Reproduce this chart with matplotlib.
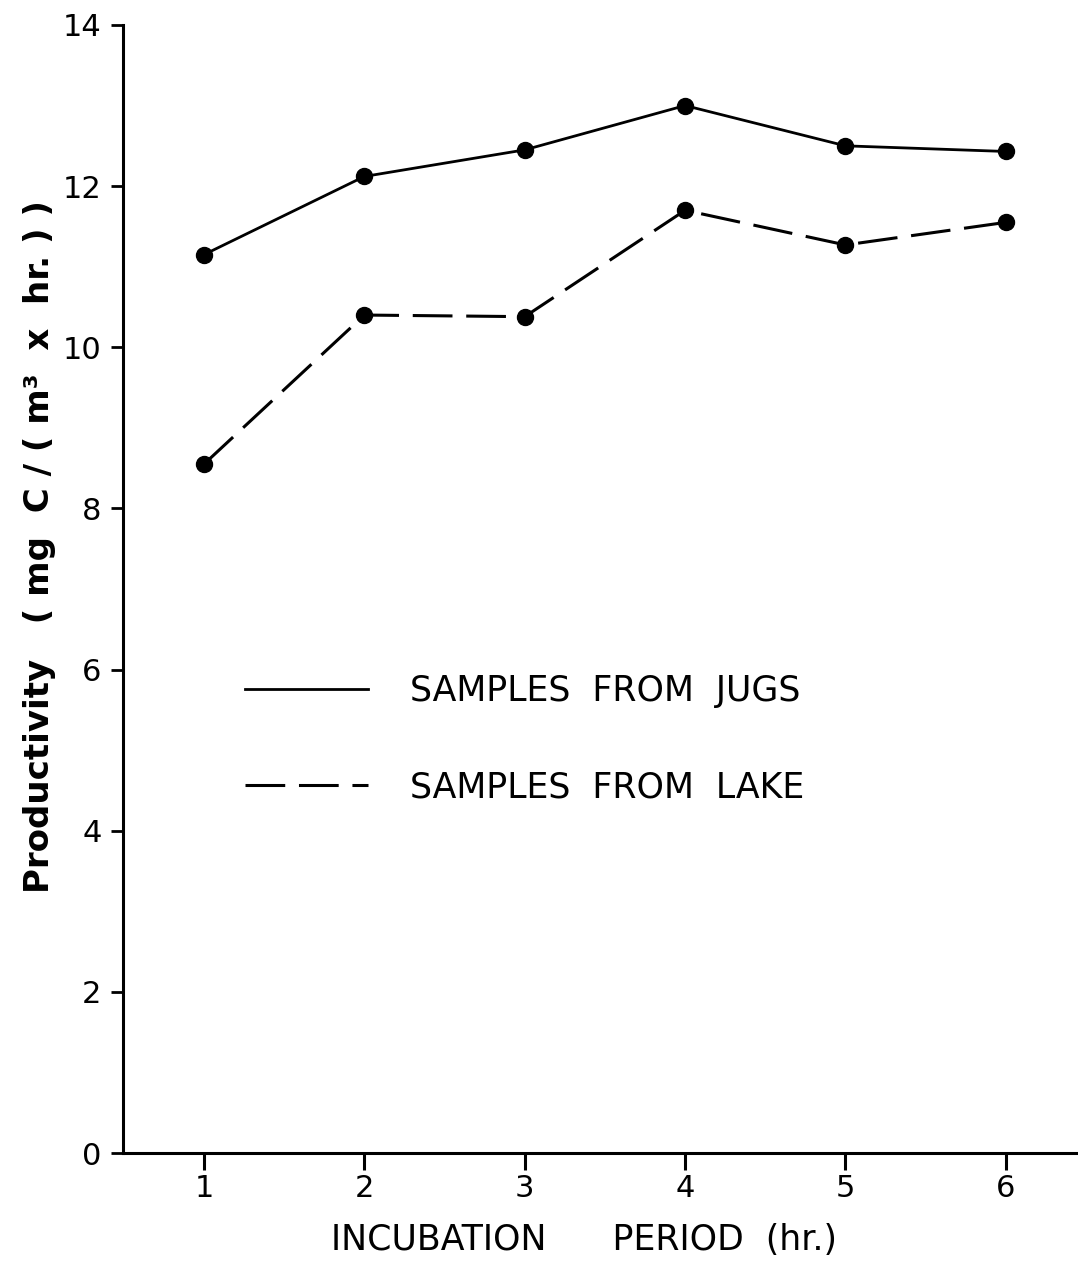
import matplotlib
matplotlib.use("Agg")
import matplotlib.pyplot as plt

# Incubation period (hr.)
hours = [1, 2, 3, 4, 5, 6]
# Productivity, mg C / (m3 x hr.)
jugs = [11.15, 12.12, 12.45, 13.0, 12.5, 12.43]
lake = [8.55, 10.4, 10.38, 11.7, 11.27, 11.55]

y_ticks = [0, 2, 4, 6, 8, 10, 12, 14]
x_ticks = [1, 2, 3, 4, 5, 6]

plt.rcParams["font.family"] = "DejaVu Sans"

fig = plt.figure(figsize=(10.78, 12.61), dpi=100)
ax = fig.add_axes([0.1141, 0.0856, 0.8859, 0.8946])

ax.plot(hours, jugs, color="black", lw=2.0, marker="o", ms=11.5,
        label="SAMPLES  FROM  JUGS")
ax.plot(hours, lake, color="black", lw=2.2, marker="o", ms=11.5,
        dashes=(13, 4.5), label="SAMPLES  FROM  LAKE")

ax.set_xlim(0.495, 6.45)
ax.set_ylim(0, 14)
ax.set_xticks(x_ticks)
ax.set_xticklabels([str(v) for v in x_ticks])
ax.set_yticks(y_ticks)
ax.set_yticklabels([str(v) for v in y_ticks])

for side in ("top", "right"):
    ax.spines[side].set_visible(False)
for side in ("left", "bottom"):
    ax.spines[side].set_linewidth(2.2)

ax.tick_params(axis="y", direction="out", length=8.5, width=2, pad=7,
               labelsize=22)
ax.tick_params(axis="x", direction="out", length=12, width=2.2, pad=3,
               labelsize=22)

ax.set_xlabel("INCUBATION      PERIOD  (hr.)", fontsize=25)
ax.xaxis.set_label_coords(0.483, -0.062)
ax.set_ylabel("Productivity   ( mg  C / ( m³  x  hr. ) )", fontsize=24.5,
              fontweight="bold")
ax.yaxis.set_label_coords(-0.07, 0.538)

leg = ax.legend(loc="center left", bbox_to_anchor=(0.1277, 0.367),
                frameon=False, fontsize=25, handlelength=3.55,
                handletextpad=1.2, labelspacing=1.8, borderaxespad=0,
                borderpad=0)
for h in leg.legend_handles:
    h.set_marker("")

fig.savefig("out.png", dpi=100)
